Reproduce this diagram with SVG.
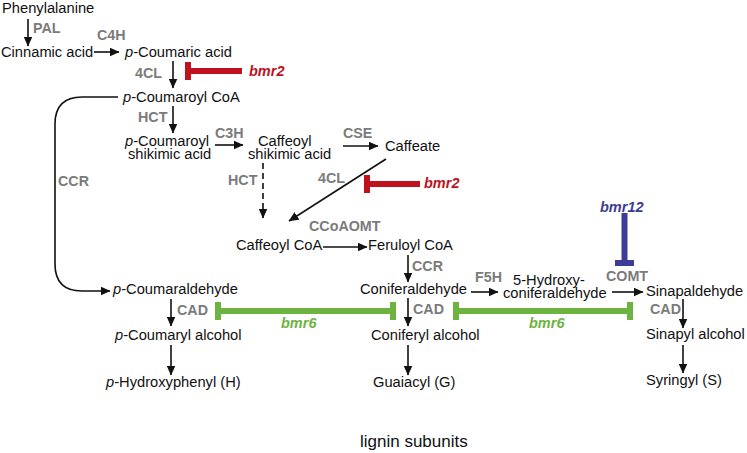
<svg xmlns="http://www.w3.org/2000/svg" width="747" height="453" viewBox="0 0 747 453">
<defs>
<style>
.t{font-family:"Liberation Sans",Arial,sans-serif;font-size:14.7px;fill:#111}
.e{font-family:"Liberation Sans",Arial,sans-serif;font-size:14.3px;font-weight:bold;fill:#7b7b7b}
.g{font-family:"Liberation Sans",Arial,sans-serif;font-size:14.5px;font-weight:bold;font-style:italic}
.c line,.c path{stroke:#111;stroke-width:1.6;fill:none;marker-end:url(#ah)}
</style>
<marker id="ah" markerUnits="userSpaceOnUse" markerWidth="10" markerHeight="9" refX="9.5" refY="4.5" orient="auto">
<path d="M0,0 L10,4.5 L0,9 z" fill="#111"/>
</marker>
</defs>
<rect width="747" height="453" fill="#fff"/>
<g id="connectors" class="c">
<line x1="28" y1="19" x2="28" y2="46"/>
<line x1="94" y1="52" x2="119" y2="52"/>
<line x1="173" y1="61" x2="173" y2="88"/>
<line x1="173" y1="106" x2="173" y2="133"/>
<line x1="215" y1="145" x2="243" y2="145"/>
<line x1="343" y1="146" x2="378" y2="146"/>
<line x1="263" y1="163" x2="263" y2="218" stroke-dasharray="6,4"/>
<line x1="386" y1="159" x2="289" y2="221"/>
<path d="M118,97 L82,97 Q55,97 55,124 L55,264 Q55,291 82,291 L110,291"/>
<line x1="323" y1="247" x2="367" y2="247"/>
<line x1="408" y1="255" x2="408" y2="282"/>
<line x1="471" y1="292" x2="498" y2="292"/>
<line x1="612" y1="292" x2="643" y2="292"/>
<line x1="171" y1="299" x2="171" y2="326"/>
<line x1="171" y1="345" x2="171" y2="375"/>
<line x1="408" y1="298" x2="408" y2="326"/>
<line x1="408" y1="345" x2="408" y2="375"/>
<line x1="683" y1="299" x2="683" y2="328"/>
<line x1="683" y1="345" x2="683" y2="373"/>
</g>
<g id="inhibitors">
<g id="bmr2a" fill="#c0121e"><rect x="185" y="62" width="6" height="18"/><rect x="185" y="68" width="57" height="6"/></g>
<g id="bmr2b" fill="#c0121e"><rect x="364" y="175" width="6" height="18"/><rect x="364" y="181" width="56" height="6"/></g>
<g id="bmr6a" fill="#6db33f"><rect x="215" y="302" width="6" height="18"/><rect x="390" y="302" width="6" height="18"/><rect x="215" y="308" width="181" height="6"/></g>
<g id="bmr6b" fill="#6db33f"><rect x="453" y="302" width="6" height="18"/><rect x="627" y="302" width="6" height="18"/><rect x="453" y="308" width="180" height="6"/></g>
<g id="bmr12" fill="#3b3c96"><rect x="621.5" y="213" width="6" height="52"/><rect x="615" y="260" width="19" height="6"/></g>
</g>
<g id="nodes">
<g id="n-phe"><text class="t" x="2" y="12.5">Phenylalanine</text></g>
<g id="n-cin"><text class="t" x="1" y="57">Cinnamic acid</text></g>
<g id="n-pcoum"><text class="t" x="125" y="57"><tspan font-style="italic">p</tspan>-Coumaric acid</text></g>
<g id="n-pcoa"><text class="t" x="123" y="102"><tspan font-style="italic">p</tspan>-Coumaroyl CoA</text></g>
<g id="n-pshik"><text class="t" x="125" y="146"><tspan font-style="italic">p</tspan>-Coumaroyl</text><text class="t" x="128" y="159">shikimic acid</text></g>
<g id="n-cshik"><text class="t" x="258" y="146">Caffeoyl</text><text class="t" x="248" y="159">shikimic acid</text></g>
<g id="n-caffeate"><text class="t" x="385" y="151">Caffeate</text></g>
<g id="n-caffcoa"><text class="t" x="236" y="250">Caffeoyl CoA</text></g>
<g id="n-fercoa"><text class="t" x="368" y="250">Feruloyl CoA</text></g>
<g id="n-pcald"><text class="t" x="113" y="294"><tspan font-style="italic">p</tspan>-Coumaraldehyde</text></g>
<g id="n-conald"><text class="t" x="360" y="294">Coniferaldehyde</text></g>
<g id="n-5oh"><text class="t" x="513" y="285">5-Hydroxy-</text><text class="t" x="503" y="298">coniferaldehyde</text></g>
<g id="n-sinald"><text class="t" x="646" y="296">Sinapaldehyde</text></g>
<g id="n-pcalc"><text class="t" x="115" y="340"><tspan font-style="italic">p</tspan>-Coumaryl alcohol</text></g>
<g id="n-conalc"><text class="t" x="371" y="340">Coniferyl alcohol</text></g>
<g id="n-sinalc"><text class="t" x="646" y="339">Sinapyl alcohol</text></g>
<g id="n-h"><text class="t" x="106" y="387"><tspan font-style="italic">p</tspan>-Hydroxyphenyl (H)</text></g>
<g id="n-g"><text class="t" x="373" y="387">Guaiacyl (G)</text></g>
<g id="n-s"><text class="t" x="646" y="385">Syringyl (S)</text></g>
<g id="title"><text class="t" x="360" y="447" style="font-size:17px">lignin subunits</text></g>
</g>
<g id="enzymes">
<text class="e" x="33" y="33">PAL</text>
<text class="e" x="97" y="40">C4H</text>
<text class="e" x="135" y="78">4CL</text>
<text class="e" x="138" y="122">HCT</text>
<text class="e" x="215" y="138">C3H</text>
<text class="e" x="343" y="138">CSE</text>
<text class="e" x="228" y="185">HCT</text>
<text class="e" x="318" y="183">4CL</text>
<text class="e" x="58" y="186">CCR</text>
<text class="e" x="309" y="231">CCoAOMT</text>
<text class="e" x="412" y="271">CCR</text>
<text class="e" x="475" y="282">F5H</text>
<text class="e" x="606" y="281">COMT</text>
<text class="e" x="177" y="315">CAD</text>
<text class="e" x="413" y="314">CAD</text>
<text class="e" x="650" y="314">CAD</text>
</g>
<g id="mutants">
<text class="g" x="249" y="76" fill="#c0121e">bmr2</text>
<text class="g" x="424" y="188" fill="#c0121e">bmr2</text>
<text class="g" x="281" y="328" fill="#6db33f">bmr6</text>
<text class="g" x="529" y="328" fill="#6db33f">bmr6</text>
<text class="g" x="600" y="212" fill="#3b3c96">bmr12</text>
</g>
</svg>
